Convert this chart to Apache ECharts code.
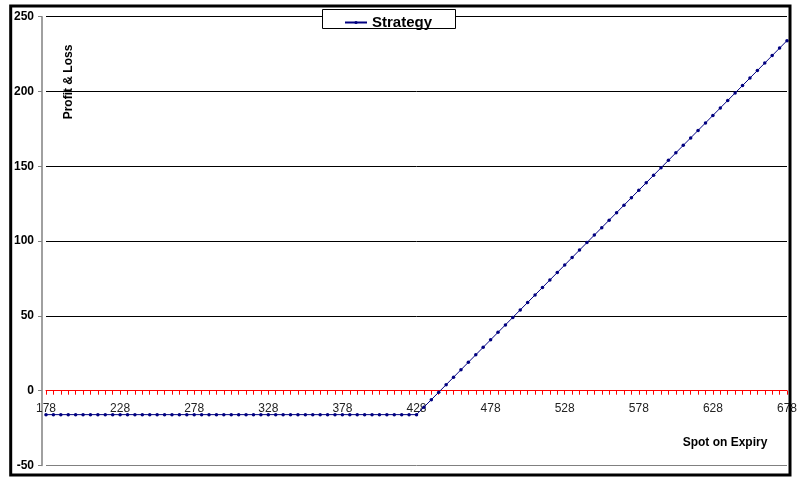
<!DOCTYPE html>
<html>
<head>
<meta charset="utf-8">
<script src="https://cdn.jsdelivr.net/npm/echarts@6/dist/echarts.min.js"></script>
<style>
  html, body { margin: 0; padding: 0; background: #fff; }
  #chart { width: 798px; height: 477px; }
</style>
</head>
<body>
<div id="chart"></div>
<script>
// Spot price at expiry (x categories)
const spots = [178,183,188,193,198,203,208,213,218,223,228,233,238,243,248,253,258,263,268,273,
  278,283,288,293,298,303,308,313,318,323,328,333,338,343,348,353,358,363,368,373,
  378,383,388,393,398,403,408,413,418,423,428,433,438,443,448,453,458,463,468,473,
  478,483,488,493,498,503,508,513,518,523,528,533,538,543,548,553,558,563,568,573,
  578,583,588,593,598,603,608,613,618,623,628,633,638,643,648,653,658,663,668,673,678];

// Profit & loss of the strategy at each spot
const strategy = [-16,-16,-16,-16,-16,-16,-16,-16,-16,-16,-16,-16,-16,-16,-16,-16,-16,-16,-16,-16,
  -16,-16,-16,-16,-16,-16,-16,-16,-16,-16,-16,-16,-16,-16,-16,-16,-16,-16,-16,-16,
  -16,-16,-16,-16,-16,-16,-16,-16,-16,-16,-16,-11,-6,-1,4,9,14,19,24,29,
  34,39,44,49,54,59,64,69,74,79,84,89,94,99,104,109,114,119,124,129,
  134,139,144,149,154,159,164,169,174,179,184,189,194,199,204,209,214,219,224,229,234];

const yTicks = [-50, 0, 50, 100, 150, 200, 250];

const chart = echarts.init(document.getElementById('chart'), null, { renderer: 'canvas' });
const font = '"Liberation Sans", Arial, sans-serif';

const gridTop = 16.7, gridBottom = 11.5;
const plotH = 477 - gridTop - gridBottom;
// distance of the zero line above the bottom of the plot
const zeroFromBottom = plotH * (0 - yTicks[0]) / (yTicks[yTicks.length - 1] - yTicks[0]);

chart.setOption({
  animation: false,
  backgroundColor: '#fff',
  textStyle: { fontFamily: font },
  grid: { left: 46, right: 11, top: gridTop, bottom: gridBottom, containLabel: false, outerBoundsMode: 'none' },
  legend: {
    data: ['Strategy'],
    left: 339, top: 10,
    itemWidth: 22, itemHeight: 4, itemGap: 6,
    textStyle: { fontFamily: font, fontSize: 15, fontWeight: 'bold', color: '#000' },
    z: 10
  },
  xAxis: {
    type: 'category',
    data: spots,
    boundaryGap: false,
    position: 'bottom',
    offset: -zeroFromBottom,
    axisLine: { onZero: false, lineStyle: { color: '#ff0000', width: 1 } },
    axisTick: { show: true, interval: 0, length: 4, lineStyle: { color: '#ff0000' } },
    axisLabel: { interval: 9, margin: 12, color: '#222', fontSize: 12, fontFamily: font },
    splitLine: { show: false }
  },
  yAxis: {
    type: 'value',
    min: yTicks[0], max: yTicks[yTicks.length - 1], interval: 50,
    offset: 4,
    axisLine: { show: true, onZero: false, lineStyle: { color: '#808080', width: 1.5 } },
    axisTick: { show: true, length: 4, lineStyle: { color: '#808080' } },
    axisLabel: { margin: 8, color: '#000', fontSize: 12, fontWeight: 'bold', fontFamily: font },
    splitLine: { show: true, lineStyle: { color: ['#808080', '#ff0000', '#000', '#000', '#000', '#000', '#000'], width: 1 } }
  },
  series: [{
    name: 'Strategy',
    type: 'line',
    data: strategy,
    symbol: 'circle',
    symbolSize: 3.5,
    showAllSymbol: true,
    lineStyle: { color: '#000080', width: 1 },
    itemStyle: { color: '#000080' },
    z: 3
  }],
  graphic: [
    {
      type: 'rect', z: 5,
      shape: { x: 322.5, y: 9.5, width: 133, height: 19 },
      style: { fill: '#fff', stroke: '#000', lineWidth: 1 }
    },
    {
      type: 'text', z: 5,
      x: 69, y: 82, rotation: Math.PI / 2,
      style: { text: 'Profit & Loss', fill: '#000', font: 'bold 12px ' + font, align: 'center', verticalAlign: 'middle' }
    },
    {
      type: 'text', z: 5,
      x: 725, y: 443,
      style: { text: 'Spot on Expiry', fill: '#000', font: 'bold 12px ' + font, align: 'center', verticalAlign: 'middle' }
    },
    {
      type: 'rect', z: 20,
      shape: { x: 10.7, y: 6, width: 779.3, height: 469 },
      style: { fill: 'none', stroke: '#000', lineWidth: 3 }
    }
  ]
});
</script>
</body>
</html>
